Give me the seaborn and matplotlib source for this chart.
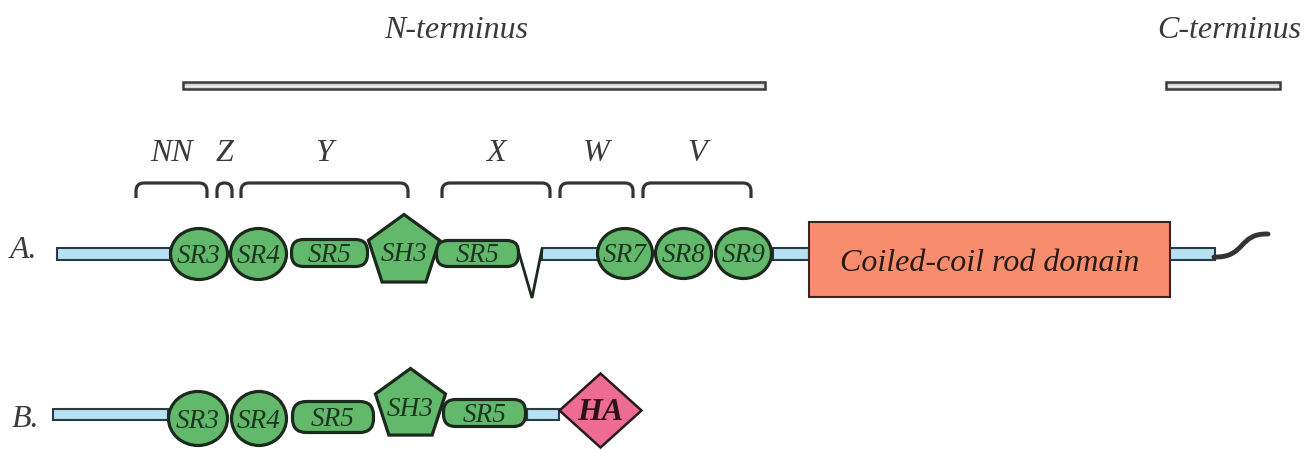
import numpy as np
import seaborn as sns
import matplotlib
matplotlib.use("Agg")
import matplotlib.pyplot as plt
from matplotlib.patches import Ellipse, FancyBboxPatch, Polygon, Rectangle, PathPatch
from matplotlib.path import Path

# ---- data (pixel layout of the domain map) ----
terminus_labels = ["N-terminus", "C-terminus"]
terminus_text_x = [456, 1229]
terminus_x0 = [183, 1166]
terminus_x1 = [765, 1280]

region_labels = ["NN", "Z", "Y", "X", "W", "V"]
region_x0 = [136, 217, 241, 442, 560, 643]
region_x1 = [207, 232, 408, 550, 633, 751]

row_a_names = ["SR3", "SR4", "SR5", "SH3", "SR5", "SR7", "SR8", "SR9"]
row_a_kinds = ["circle", "circle", "pill", "penta", "pill", "circle", "circle", "circle"]
row_a_x0 = [169, 229, 290, 367, 435, 596, 654, 714]
row_a_x1 = [229, 288, 369, 441, 520, 654, 713, 773]
row_a_y0 = [227, 227, 238, 213, 239, 227, 227, 227]
row_a_y1 = [281, 281, 268, 281, 268, 280, 280, 280]
row_a_links = [(57, 170), (542, 598), (773, 809), (1170, 1215)]

row_b_names = ["SR3", "SR4", "SR5", "SH3", "SR5"]
row_b_kinds = ["circle", "circle", "pill", "penta", "pill"]
row_b_x0 = [167, 230, 291, 374, 442]
row_b_x1 = [229, 288, 375, 447, 527]
row_b_y0 = [390, 390, 400, 367, 398]
row_b_y1 = [447, 447, 434, 437, 428]
row_b_links = [(53, 168), (527, 559)]

GREEN = "#63b96b"
EDGE = "#1c2a1e"
BLUE = "#b6e1f3"
SALMON = "#f78d6d"
PINK = "#ee6b93"
TXT = "#3a3a3a"
SRTXT = "#1b3620"

sns.set_style("white")
plt.rcParams["font.family"] = ["Liberation Serif", "DejaVu Serif"]

fig = plt.figure(figsize=(13.04, 4.53), dpi=100)
ax = fig.add_axes([0, 0, 1, 1])
ax.set_xlim(0, 1304)
ax.set_ylim(453, 0)
ax.axis("off")

LW = 2.3


def link(x0, x1, yc, h):
    ax.add_patch(Rectangle((x0, yc - h / 2), x1 - x0, h, facecolor=BLUE,
                           edgecolor="#2c3b42", lw=1.5, zorder=1))


def domain(kind, name, x0, x1, y0, y1, fs=19.5):
    s = 1.5  # half stroke in px
    cx = (x0 + x1) / 2
    cy = (y0 + y1) / 2
    if kind == "circle":
        p = Ellipse((cx, cy), x1 - x0 - 2 * s, y1 - y0 - 2 * s)
        ty = cy + 9
    elif kind == "pill":
        h = y1 - y0 - 2 * s
        p = FancyBboxPatch((x0 + s, y0 + s), x1 - x0 - 2 * s, h,
                           boxstyle=f"round,pad=0,rounding_size={h * 0.45}")
        ty = cy + 9
    else:
        r = (x1 - x0 - 2 * s) / 1.902
        pcy = y0 + s + r
        ang = np.deg2rad(-90 + 72 * np.arange(5))
        p = Polygon(np.column_stack([cx + r * np.cos(ang), pcy + r * np.sin(ang)]))
        ty = cy + 14
    p.set_facecolor(GREEN)
    p.set_edgecolor(EDGE)
    p.set_linewidth(LW)
    p.set_zorder(3)
    ax.add_patch(p)
    ax.text(cx, ty, name, ha="center", va="baseline", fontsize=fs,
            style="italic", color=SRTXT, zorder=4)


# terminus bars and labels
for lab, tx, x0, x1 in zip(terminus_labels, terminus_text_x, terminus_x0, terminus_x1):
    ax.add_patch(Rectangle((x0, 82), x1 - x0, 7, facecolor="#d4d4d4",
                           edgecolor="#3c3c3c", lw=1.8))
    ax.plot([x0 + 2, x1 - 2], [85.5, 85.5], color="#eeeeee", lw=1.0)
    ax.text(tx, 38, lab, ha="center", va="baseline", fontsize=23,
            style="italic", color=TXT)

# region brackets
for lab, x0, x1 in zip(region_labels, region_x0, region_x1):
    r = min(8, (x1 - x0) / 2)
    top, bot = 183, 198
    verts = [(x0, bot), (x0, top + r), (x0, top), (x0 + r, top),
             (x1 - r, top), (x1, top), (x1, top + r), (x1, bot)]
    codes = [Path.MOVETO, Path.LINETO, Path.CURVE3, Path.CURVE3,
             Path.LINETO, Path.CURVE3, Path.CURVE3, Path.LINETO]
    ax.add_patch(PathPatch(Path(verts, codes), facecolor="none",
                           edgecolor="#333333", lw=2.3, capstyle="butt"))
    ax.text((x0 + x1) / 2, 161, lab, ha="center", va="baseline", fontsize=23,
            style="italic", color=TXT)

# row A
ax.text(23, 258, "A.", ha="center", va="baseline", fontsize=23,
        style="italic", color=TXT)
for x0, x1 in row_a_links:
    link(x0, x1, 253.5, 12)
ax.plot([519, 532, 542], [253, 298, 249], color=EDGE, lw=2.0, zorder=2,
        solid_joinstyle="miter")
for args in zip(row_a_kinds, row_a_names, row_a_x0, row_a_x1, row_a_y0, row_a_y1):
    domain(*args)

ax.add_patch(Rectangle((809, 222), 361, 75, facecolor=SALMON,
                       edgecolor="#3b2520", lw=1.5, zorder=2))
ax.text(989.5, 271, "Coiled-coil rod domain", ha="center", va="baseline",
        fontsize=23, style="italic", color="#2a1a16", zorder=4)

tail = Path([(1214, 257), (1246, 258), (1238, 233), (1268, 234)],
            [Path.MOVETO, Path.CURVE4, Path.CURVE4, Path.CURVE4])
ax.add_patch(PathPatch(tail, facecolor="none", edgecolor="#333333", lw=3.5,
                       capstyle="round", zorder=2))

# row B
ax.text(25, 427, "B.", ha="center", va="baseline", fontsize=23,
        style="italic", color=TXT)
for x0, x1 in row_b_links:
    link(x0, x1, 414.5, 11)
for args in zip(row_b_kinds, row_b_names, row_b_x0, row_b_x1, row_b_y0, row_b_y1):
    domain(*args)

hx, hy, hw, hh = 600.5, 410.5, 41, 37
ax.add_patch(Polygon([(hx - hw, hy), (hx, hy - hh), (hx + hw, hy), (hx, hy + hh)],
                     facecolor=PINK, edgecolor="#2a1a1e", lw=1.8, zorder=3))
ax.text(hx, hy + 10, "HA", ha="center", va="baseline", fontsize=23,
        style="italic", weight="bold", color="#2a1216", zorder=4)

fig.savefig("out.png", dpi=100)
